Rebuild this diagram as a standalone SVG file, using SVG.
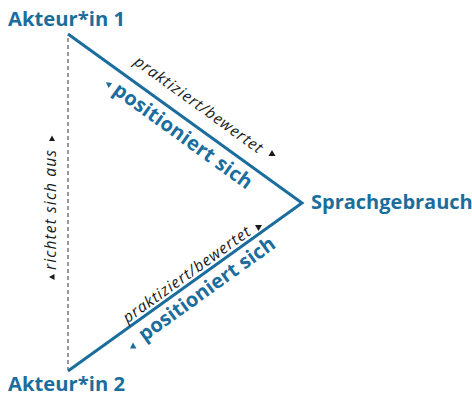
<svg xmlns="http://www.w3.org/2000/svg" width="472" height="397" viewBox="0 0 472 397">
  <style>
    .node { font-family: "Open Sans", "Liberation Sans", sans-serif; font-weight: bold; font-size: 20px; fill: #1a6d9c; }
    .act { font-family: "Open Sans", "Liberation Sans", sans-serif; font-style: italic; font-size: 15.5px; fill: #1a1a1a; }
    .pos { font-family: "Open Sans", "Liberation Sans", sans-serif; font-weight: bold; font-size: 20px; fill: #1a6d9c; }
    .edge { fill: none; stroke: #1a6d9c; stroke-width: 3; stroke-linejoin: miter; }
    .dash { fill: none; stroke: #555555; stroke-width: 1.2; stroke-dasharray: 4 3; }
    .tri-k { fill: #1a1a1a; }
    .tri-b { fill: #1a6d9c; }
  </style>
  <rect width="472" height="397" fill="#ffffff"/>

  <g id="connectors">
    <line class="dash" x1="68" y1="38" x2="68" y2="370"/>
    <polyline class="edge" points="68,34 302,203 68,371"/>

    <!-- upper edge labels -->
    <g transform="translate(68,34) rotate(35.84)">
      <text class="act" x="70" y="-14" textLength="154" lengthAdjust="spacing">praktiziert/bewertet</text>
      <text class="pos" x="70" y="22" textLength="166" lengthAdjust="spacing">positioniert sich</text>
      <polygon class="tri-b" points="59,17 64.5,14 64.5,20"/>
    </g>
    <polygon class="tri-k" points="268.5,156 275.5,156 272,150"/>

    <!-- lower edge labels -->
    <g transform="translate(68,371) rotate(-35.68)">
      <text class="act" x="76" y="-4" textLength="153" lengthAdjust="spacing">praktiziert/bewertet</text>
      <text class="pos" x="79" y="21" textLength="163" lengthAdjust="spacing">positioniert sich</text>
    </g>
    <polygon class="tri-k" points="255,225 262,225 258.5,231"/>
    <polygon class="tri-b" points="130,348.5 136.5,348.5 133,342.5"/>

    <!-- vertical edge label -->
    <g transform="translate(56,270) rotate(-90)">
      <text class="act" x="0" y="0" textLength="120" lengthAdjust="spacing">richtet sich aus</text>
    </g>
    <polygon class="tri-k" points="49,141 55,141 52,135.5"/>
    <polygon class="tri-k" points="54.5,274 54.5,280 49,277"/>
  </g>

  <g id="akteur1">
    <text class="node" x="8" y="26" textLength="117" lengthAdjust="spacingAndGlyphs">Akteur*in 1</text>
  </g>
  <g id="sprachgebrauch">
    <text class="node" x="311" y="209">Sprachgebrauch</text>
  </g>
  <g id="akteur2">
    <text class="node" x="8" y="391" textLength="117" lengthAdjust="spacingAndGlyphs">Akteur*in 2</text>
  </g>
</svg>
